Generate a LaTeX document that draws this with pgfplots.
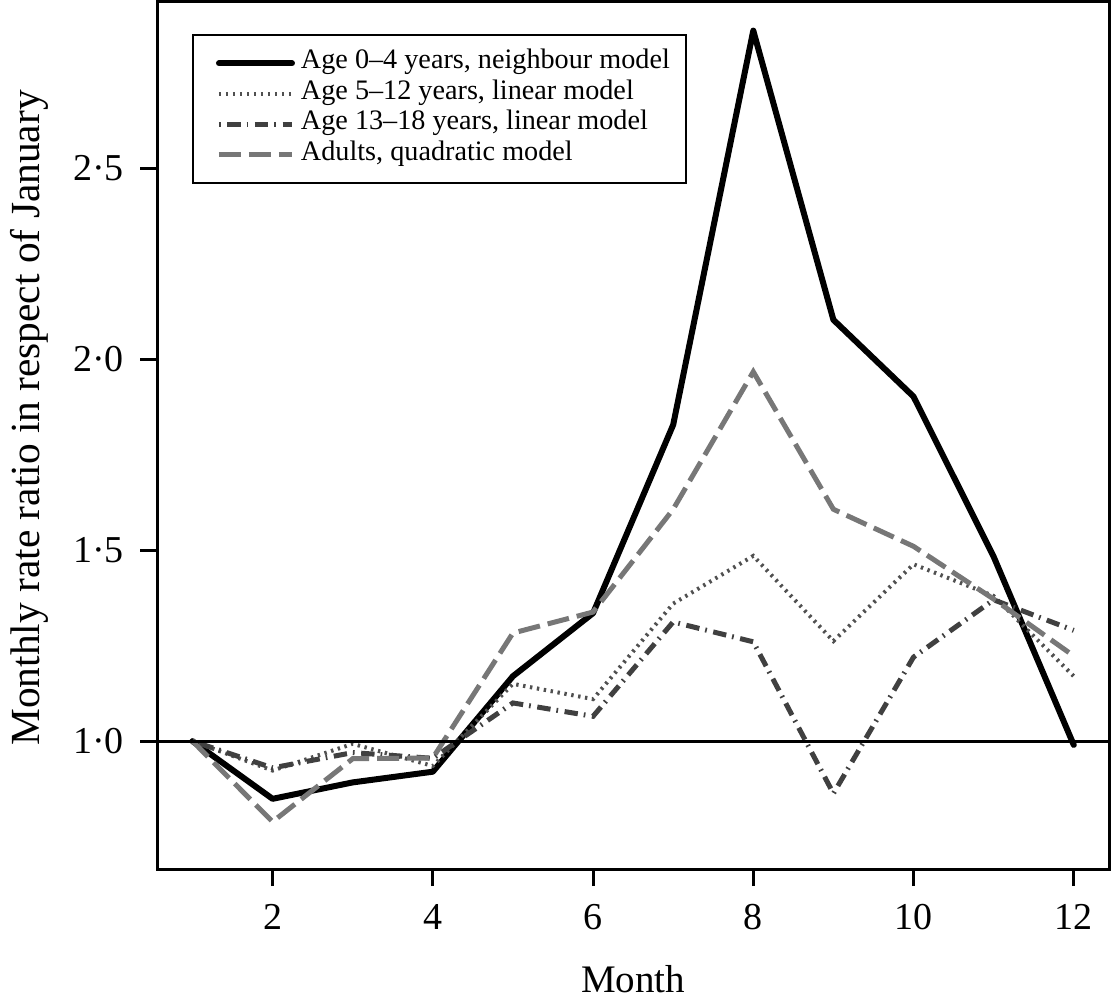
\documentclass[border=0pt]{standalone}
\usepackage{fontspec}
\setmainfont{Liberation Serif}
\usepackage{pgfplots}
\pgfplotsset{compat=1.18}
\definecolor{adultc}{RGB}{119,119,119}
\definecolor{dotc}{RGB}{80,80,80}
\definecolor{ddc}{RGB}{64,64,64}
\newcommand{\bigf}{\fontsize{19bp}{22bp}\selectfont}
\newcommand{\xlf}{\fontsize{19.5bp}{22bp}\selectfont}
\newcommand{\ylf}{\fontsize{20.7bp}{24bp}\selectfont}
\newcommand{\legf}{\fontsize{14.1bp}{15.25bp}\selectfont}
\begin{document}
\begin{tikzpicture}
\begin{axis}[
  scale only axis,
  width=475.85bp, height=433.75bp,
  xmin=0.561, xmax=12.44,
  ymin=0.6653, ymax=2.9363,
  axis line style={line width=1.5bp},
  tick style={line width=1.5bp, black},
  tick align=outside,
  tick pos=left,
  major tick length=8.5bp,
  xtick={2,4,6,8,10,12},
  xticklabels={2,4,6,8,10,12},
  ytick={1,1.5,2,2.5},
  yticklabels={1·0,1·5,2·0,2·5},
  ticklabel style={font=\bigf, inner sep=0pt},
  xticklabel style={anchor=north, yshift=-9bp},
  yticklabel style={anchor=east, xshift=-8bp},
  xlabel={Month},
  ylabel={Monthly rate ratio in respect of January},
  label style={inner sep=0pt},
  xlabel style={font=\xlf, at={(rel axis cs:0.5,0)}, anchor=center, yshift=-55bp},
  ylabel style={font=\ylf, at={(rel axis cs:0,0.52)}, anchor=center, yshift=64.15bp},
  legend style={at={(rel axis cs:0,1)}, anchor=north west,
    xshift=17.35bp, yshift=-16.25bp,
    draw=black, line width=1bp, fill=white,
    inner xsep=8bp, inner ysep=6.5bp,
    row sep=0pt, column sep=3bp,
    nodes={inner sep=0pt, text height=10.5bp, text depth=4.75bp, font=\legf},
    cells={anchor=west}},
  legend image code/.code={%
    \path (0bp,0bp);
    \draw[mark repeat=2,mark phase=2] plot coordinates {(3.5bp,0bp) (21.75bp,0bp) (40bp,0bp)};},
  clip=true,
]
\addplot[black, line width=3bp, line join=round, line cap=round] coordinates {
(1,1.0)(2,0.849)(3,0.892)(4,0.92)(5,1.17)(6,1.335)(7,1.828)(8,2.86)(9,2.103)(10,1.902)(11,1.483)(12,0.99)};
\addlegendentry{Age 0–4 years, neighbour model}
\addplot[dotc, line width=2bp, dash pattern=on 1.2bp off 2.3bp] coordinates {
(1,1.0)(2,0.923)(3,0.993)(4,0.935)(5,1.15)(6,1.11)(7,1.36)(8,1.485)(9,1.262)(10,1.463)(11,1.38)(12,1.17)};
\addlegendentry{Age 5–12 years, linear model}
\addplot[ddc, line width=2.5bp, dash pattern=on 0.85bp off 3.3bp on 6.7bp off 3bp] coordinates {
(1,1.0)(2,0.93)(3,0.97)(4,0.955)(5,1.10)(6,1.065)(7,1.312)(8,1.26)(9,0.863)(10,1.22)(11,1.37)(12,1.29)};
\addlegendentry{Age 13–18 years, linear model}
\addplot[adultc, line width=2.5bp, dash pattern=on 11bp off 4bp] coordinates {
(1,1.0)(2,0.789)(3,0.954)(4,0.956)(5,1.283)(6,1.338)(7,1.607)(8,1.967)(9,1.607)(10,1.51)(11,1.372)(12,1.223)};
\addlegendentry{Adults, quadratic model}
\addplot[black, line width=1.4bp, forget plot] coordinates {(0.561,1) (12.44,1)};
\coordinate (SW) at (rel axis cs:0,0);
\coordinate (NE) at (rel axis cs:1,1);
\end{axis}
\pgfresetboundingbox
\path[use as bounding box] ([shift={(-78.65bp,-66bp)}]SW) rectangle ([shift={(1bp,0.75bp)}]NE);
\end{tikzpicture}
\end{document}
